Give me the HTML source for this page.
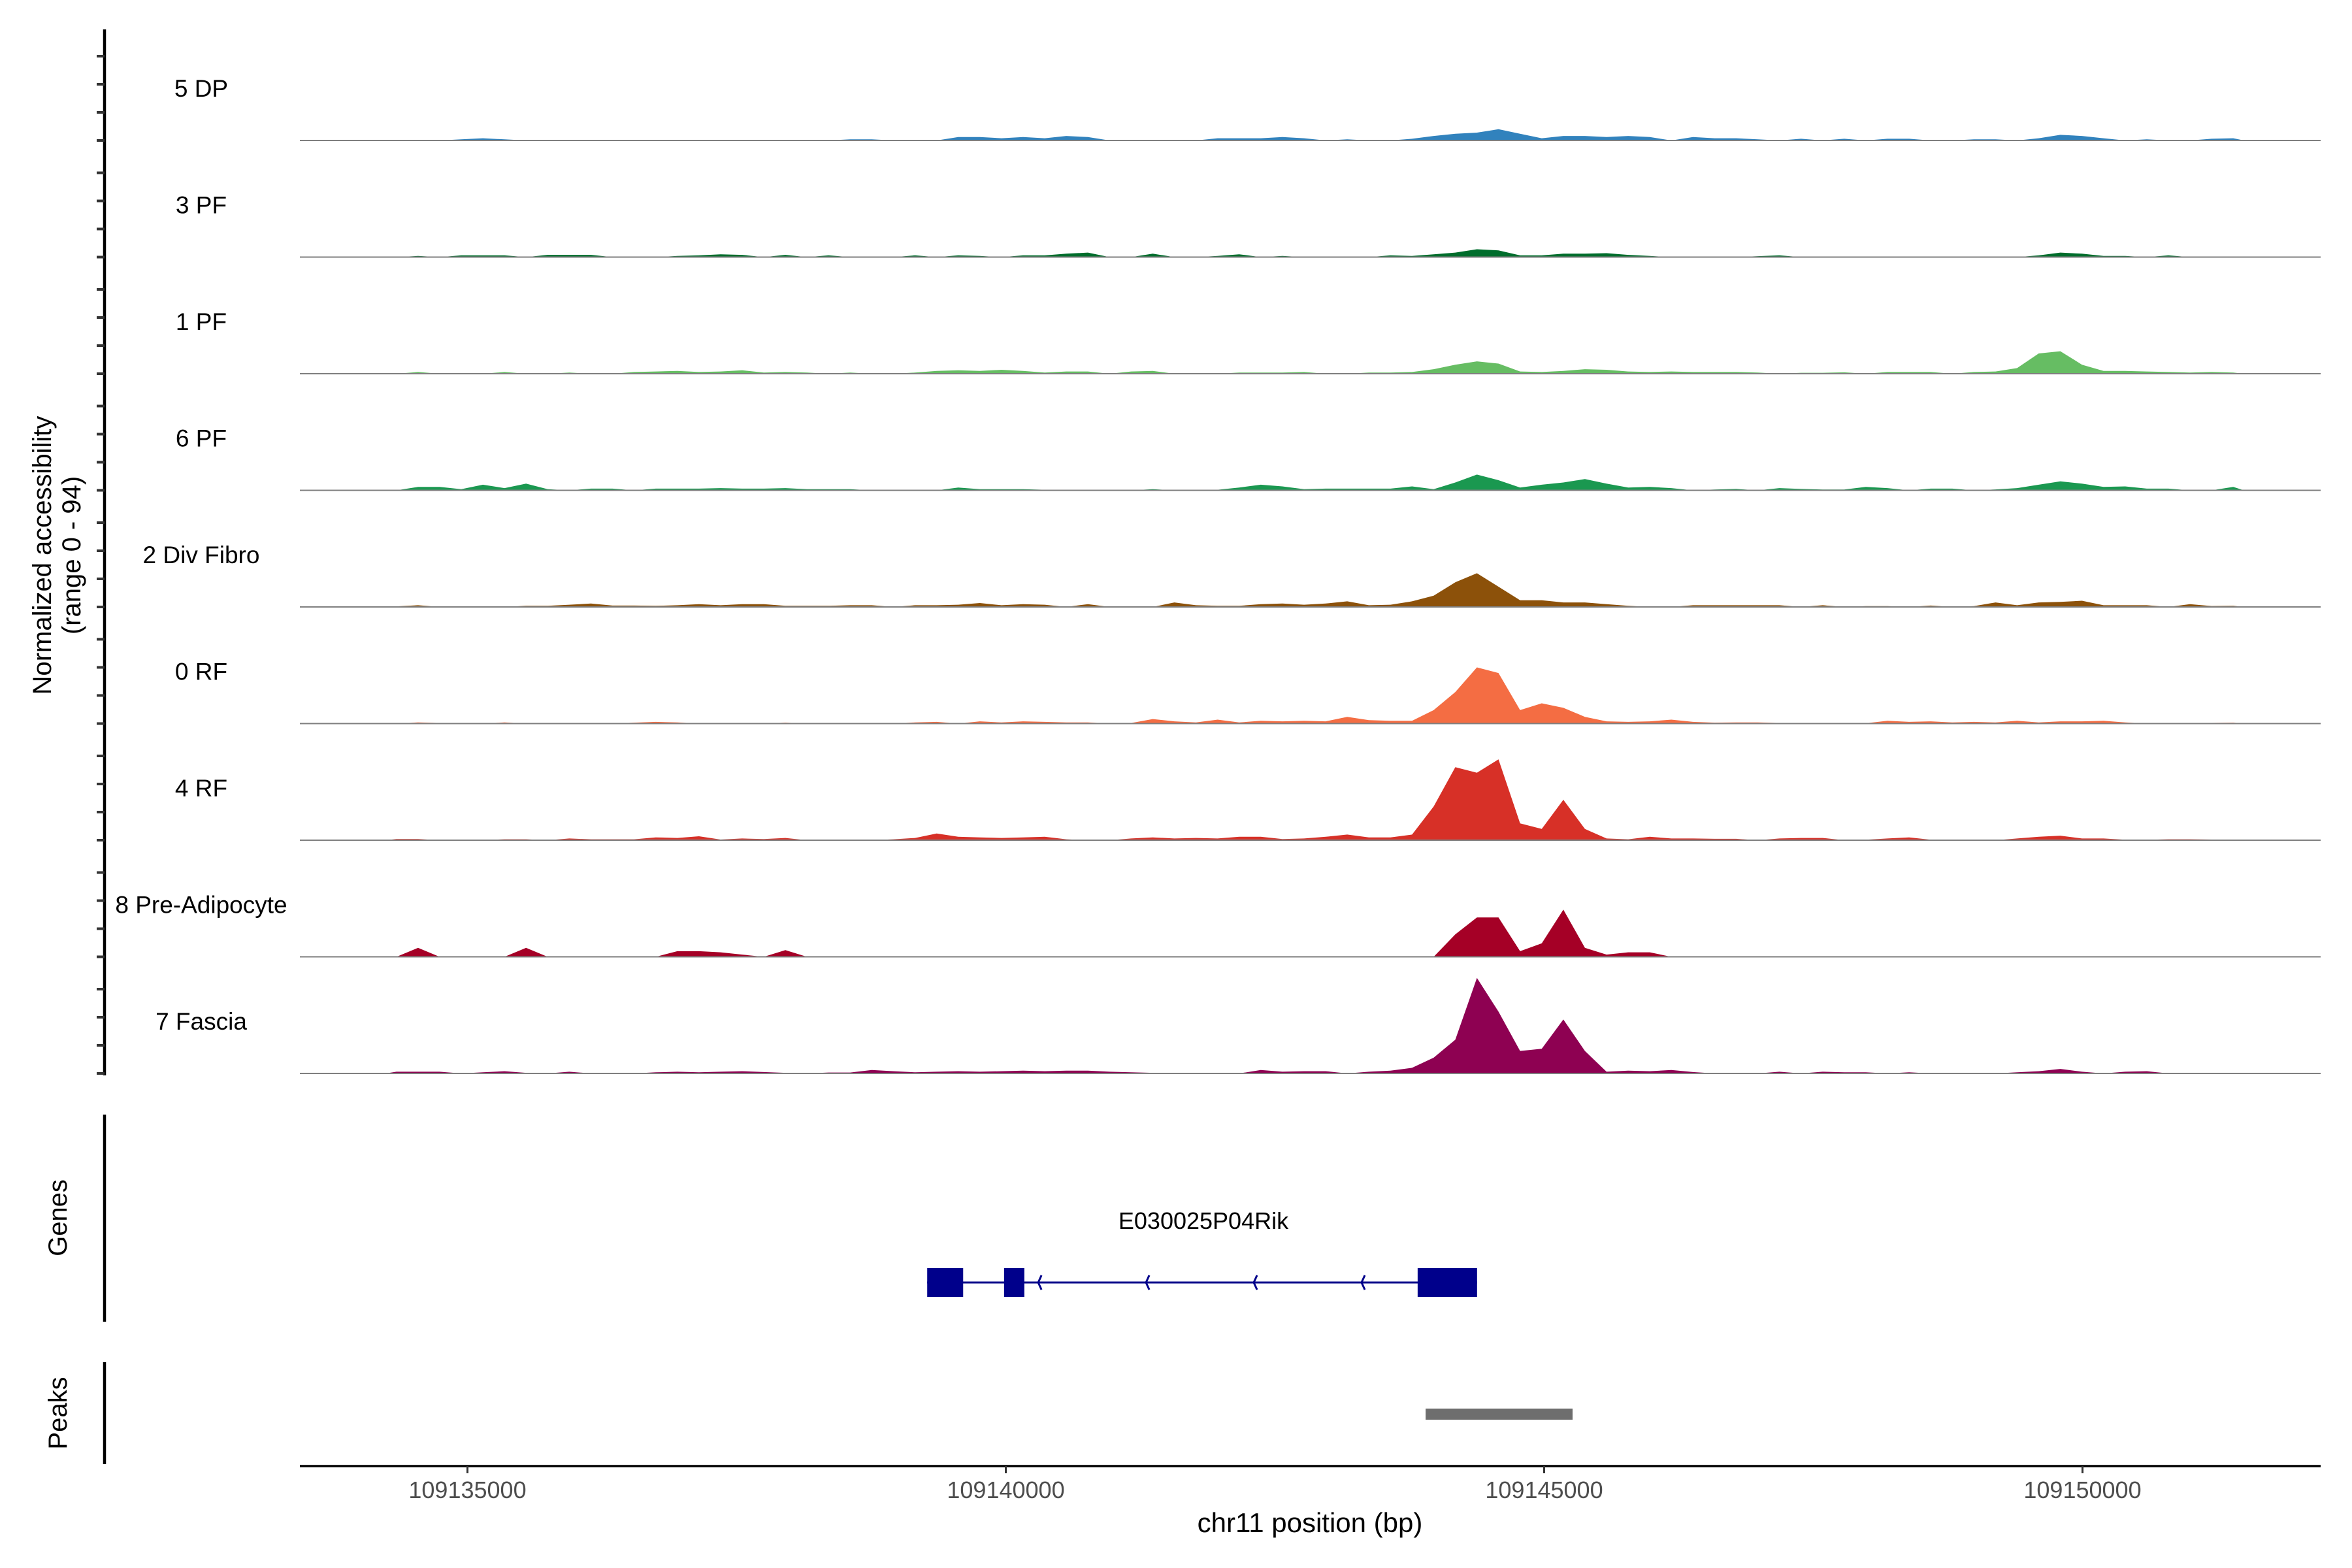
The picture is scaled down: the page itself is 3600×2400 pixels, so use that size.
<!DOCTYPE html>
<html><head><meta charset="utf-8"><style>
html,body{margin:0;padding:0;background:#fff;}
svg{display:block;font-family:"Liberation Sans",Arial,sans-serif;}
</style></head><body>
<svg id="chart" width="3600" height="2400" viewBox="0 0 3600 2400" xmlns="http://www.w3.org/2000/svg">
<rect width="3600" height="2400" fill="#fff"/>
<g id="tracks"></g>
<g id="yaxis"><line x1="160" y1="45" x2="160" y2="1646" stroke="#000" stroke-width="4.5"/></g>
<text transform="translate(78,850) rotate(-90)" text-anchor="middle" font-size="40" fill="#000">Normalized accessibility</text>
<text transform="translate(123,850) rotate(-90)" text-anchor="middle" font-size="40" fill="#000">(range 0 - 94)</text>
<g id="genes">
<line x1="160" y1="1706" x2="160" y2="2023" stroke="#000" stroke-width="4.5"/>
<text transform="translate(102,1864) rotate(-90)" text-anchor="middle" font-size="40">Genes</text>
<text x="1842" y="1881" text-anchor="middle" font-size="36">E030025P04Rik</text>
</g>
<g id="peaks">
<line x1="160" y1="2085" x2="160" y2="2241" stroke="#000" stroke-width="4.5"/>
<text transform="translate(102,2163) rotate(-90)" text-anchor="middle" font-size="40">Peaks</text>
</g>
<g id="xaxis">
<line x1="459" y1="2244" x2="3552" y2="2244" stroke="#000" stroke-width="3.5"/>
<text x="2005" y="2345" text-anchor="middle" font-size="42">chr11 position (bp)</text>
</g>
</svg>
<script>
const trackNames = ["5 DP","3 PF","1 PF","6 PF","2 Div Fibro","0 RF","4 RF","8 Pre-Adipocyte","7 Fascia"];
const trackColors = ["#3182bd","#006d2c","#66bd63","#1a9850","#8c510a","#f46d43","#d73027","#a50026","#8e0152"];
const binStart = 109134240;
const binSize = 200.7;
const dp5 = [0,0,0,1,2,1,0,0,0,0,0,0,0,0,0,0,0,0,0,0,0,1,1,0,0,0,3,3,2,3,2,4,3,0,0,0,0,0,2,2,2,3,2,0,1,0,0,1.5,4,6,7,10,6,2,4,4,3,4,3,0,3,2,2,1,0,1.5,0,1.5,0,1.5,1.5,0,0,1,1,0,2,5,4,2,0,1,0,0,1.5,2];
const pf3 = [0,1,0,1.5,1.5,1.5,0,2,2,2,0,0,0,1,1.5,2.5,2,0,2,0,1.5,0,0,0,1.5,0,1.5,1,0,1.5,1.5,3,4,0,0,3,0,0,1,2.5,0,1,0,0,0,0,1.5,1,2.5,4,7,6,1.5,1.5,3,3,3.5,2,1,0,0,0,0,0.8,1.5,0,0,0,0,0,0,0,0,0,0,0,1.5,4,3,1,1,0,1.5,0,0,0.5];
const pf1 = [0,1.5,0,0,0,1.5,0,0,1,0,0,1.5,2,2.5,1.5,2,3,1,1.5,1,0,1,0,0,1,2.5,3,2.5,3.5,2.5,1,2,2,0,2,2.5,0,0,0,1,1,1,1.5,0,0,1,1,1.5,4,8,11,9,2,1.5,2.5,4,3.5,2,1.5,2,1.5,1.5,1.5,1,0,0.8,0.8,1.2,0,1.5,1.5,1.5,0,1.5,2,5,18,20,8,2.5,2.5,2,1.5,1,1.5,1];
const pf6 = [0,3,3,1,5,2,6,1,0,1.5,1.5,0,1.5,1.5,1.5,2,1.5,1.5,2,1,1,1,0,0,0,0,2.5,1,1,1,0.5,0,0,0,0,1,0,0.5,0.5,2.5,5,3.5,1,1.5,1.5,1.5,1.5,3.5,1,7,14,9,2.5,5,7,10,6,2.5,3,2,0,0.7,1.2,0,2,1.2,0.7,0.7,3,2,0,1.5,1.5,0,0.8,2,5,8,6,3,3.5,1.5,1.5,0,0,3];
const divFibro = [0.5,1.5,0,0,0,0,1,1,2,3,1.2,1.2,1,1.5,2.5,1.5,2.5,2.5,1,1,1,1.5,1.5,0,1.5,1.5,2,3.5,1.5,2.5,2,0,2.5,0,0,0,4,1.5,1,1,2.5,3,2,3,5,1.5,2,5,10,22,30,18,6,6,4,4,2.5,1,0,0,1.5,1.5,1.5,1.5,1.5,0,1.5,0,0.7,0.7,0,1.2,0,0.7,4,1.5,4,4.5,5.5,1.5,1.5,1.5,0,2.5,0.8,1];
const rf0 = [0,1,0.5,0,0,1,0,0,0,0.5,0,0.8,1.5,1,0,0,0,0,0.8,0,0.3,0,0.3,0,1,1.5,0,2,1,2,1.5,1,1,0,0.5,4,2,1,3.5,1,2.5,2,2.5,2,6,3,2.5,2.5,12,28,50,45,12,18,14,6,2,1.5,2,3.5,1.5,0.8,1,1,0.5,0,0.3,0,0.3,2.5,1.5,2,1,1.5,1,2.5,1,2,2,2.5,1,0,0,0.6,0.6,0.8];
const rf4 = [1,1,0,0,0,0.8,0.8,0,1.5,0.8,0.8,0.8,2.5,2,3.5,0.6,1.5,1,2,0,0,0,0,0.8,2,6,3,2.5,2,2.5,3,0.8,0,0,1.5,2.5,1.5,2,1.5,3,3,1,1.5,3,5,2.5,2.5,5,30,65,60,72,15,10,36,10,1.5,0.8,3,1.5,1.5,1.2,1.2,0,1.5,2,2,0,0.4,1.5,2.5,0.4,0,0.4,0,1.5,3,4,1.5,1.5,0.4,0.4,0.8,0.8,0.6,0];
const preAdipo = [0,8,0,0,0,0,8,0,0,0,0,0,0,5,5,4,2,0,6,0,0,0,0,0,0,0,0,0,0,0,0,0,0,0,0,0,0,0,0,0,0,0,0,0,0,0,0,0,0,20,35,35,5,12,42,8,2,4,4,0,0,0,0,0,0,0,0,0,0,0,0,0,0,0,0,0,0,0,0,0,0,0,0,0,0,0];
const fascia = [1.5,1.5,1.5,0,1,2,0.5,0,1.5,0,0,0,1,1.5,1,1.5,2,1.2,0.5,0,0.8,0.8,3,2,1,1.5,2,1.5,2,2.5,2,2.5,2.5,1.5,1,0.5,0,0,0,0,3,1.5,2,2,0,1.5,2.5,5,14,30,85,55,20,22,48,20,1.5,2.5,2,3,1.2,0,0,0,1.5,0,1.5,1,1,0,1,0,0,0,0,1,2,4,1.5,0,1.5,2,0,0,0,0];
const trackValues = [dp5,pf3,pf1,pf6,divFibro,rf0,rf4,preAdipo,fascia];
const xTickValues = [109135000,109140000,109145000,109150000];
const xTickLabels = ["109135000","109140000","109145000","109150000"];
const exonStarts = [109139270,109139984,109143825];
const exonEnds = [109139604,109140172,109144377];
const geneStart = 109139270, geneEnd = 109144377;
const strandArrowPositions = [109140301,109141302,109142303,109143304];
const peakStarts = [109143899];
const peakEnds = [109145264];

const NS = "http://www.w3.org/2000/svg";
function xScale(bp){ return 715.5 + (bp - 109135000) * 0.1648; }
function baseY(k){ return 215 + 178.5 * k; }
function yScale(k, v){ return baseY(k) - v * 1.72; }
function mk(tag, attrs, parent){ const e = document.createElementNS(NS, tag); for (const a in attrs) e.setAttribute(a, attrs[a]); parent.appendChild(e); return e; }

const tracks = document.getElementById('tracks');
const yaxis = document.getElementById('yaxis');
trackNames.forEach((name, k) => {
  const g = mk('g', {}, tracks);
  
  
  const vals = trackValues[k];
  let d = 'M' + xScale(binStart).toFixed(1) + ',' + baseY(k);
  vals.forEach((v, i) => {
    const cx = xScale(binStart + binSize * i + binSize / 2);
    d += ' L' + cx.toFixed(1) + ',' + yScale(k, v).toFixed(1);
  });
  d += ' L' + xScale(binStart + binSize * vals.length).toFixed(1) + ',' + baseY(k) + ' Z';
  const area = mk('path', {d: d, fill: trackColors[k], stroke: 'none'}, g);
  
  
  const bl = mk('line', {x1: 459, x2: 3552, y1: baseY(k), y2: baseY(k), stroke: '#7f7f7f', 'stroke-width': 2}, g);
  
  
  const t = mk('text', {x: 308, y: baseY(k) - 67, 'text-anchor': 'middle', 'font-size': 37, fill: '#000'}, g);
  
  
  t.textContent = name;
  for (let j = 0; j < 4; j++) {
    const tk = mk('line', {x1: 148, x2: 160, y1: baseY(k) - 43 * j, y2: baseY(k) - 43 * j, stroke: '#333', 'stroke-width': 4}, yaxis);
    
    
  }
});

const genes = document.getElementById('genes');
const gl = mk('line', {x1: xScale(geneStart), x2: xScale(geneEnd), y1: 1963, y2: 1963, stroke: '#00008b', 'stroke-width': 3}, genes);


strandArrowPositions.forEach(p => {
  const x = xScale(p);
  const a = mk('path', {d: 'M' + (x + 5) + ',1952 L' + x + ',1963 L' + (x + 5) + ',1974', fill: 'none', stroke: '#00008b', 'stroke-width': 3}, genes);
  
  
});
exonStarts.forEach((s, i) => {
  const r = mk('rect', {x: xScale(s), y: 1941, width: xScale(exonEnds[i]) - xScale(s), height: 44, fill: '#00008b'}, genes);
  
  
});

const peaks = document.getElementById('peaks');
peakStarts.forEach((s, i) => {
  const r = mk('rect', {x: xScale(s), y: 2156, width: xScale(peakEnds[i]) - xScale(s), height: 17, fill: '#6e6e6e'}, peaks);
  
  
});

const xaxis = document.getElementById('xaxis');
xTickValues.forEach((v, i) => {
  const x = xScale(v);
  const tk = mk('line', {x1: x, x2: x, y1: 2244, y2: 2255, stroke: '#333', 'stroke-width': 3}, xaxis);
  
  
  const t = mk('text', {x: x, y: 2293, 'text-anchor': 'middle', 'font-size': 36, fill: '#4d4d4d'}, xaxis);
  
  
  t.textContent = xTickLabels[i];
});
</script>
</body></html>
